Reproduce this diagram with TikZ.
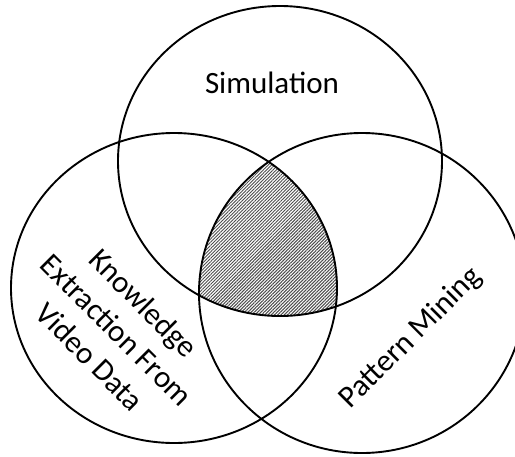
\documentclass[tikz,border=0pt]{standalone}
\usepackage{fontspec}
\setmainfont{Carlito}
\usetikzlibrary{patterns.meta}
\begin{document}
\begin{tikzpicture}[x=1pt,y=-1pt,
  ring/.style={line width=1.9pt, black},
  lbl/.style={font=\fontsize{31}{38}\selectfont, inner sep=0pt, align=center},
  hatch/.style={pattern={Lines[angle=45,distance=2.3pt,line width=1pt]}, pattern color=black!70}]
\clip (0,0) rectangle (515,456);
\begin{scope}
  \clip (280,161) ellipse [x radius=162pt, y radius=155pt];
  \clip (174,288) ellipse [x radius=163pt, y radius=155pt];
  \fill[hatch] (362,293) ellipse [x radius=163pt, y radius=160pt];
\end{scope}
\draw[ring] (280,161) ellipse [x radius=162pt, y radius=155pt];
\draw[ring] (174,288) ellipse [x radius=163pt, y radius=155pt];
\draw[ring] (362,293) ellipse [x radius=163pt, y radius=160pt];
\node[lbl, anchor=base] (sim) at (272,93) {Simulation};
\node[lbl, rotate=-45] (kev) at (117,330) {Knowledge\\Extraction From\\Video Data};
\node[lbl, rotate=45] (pm) at (411,338) {Pattern Mining};
\end{tikzpicture}
\end{document}
